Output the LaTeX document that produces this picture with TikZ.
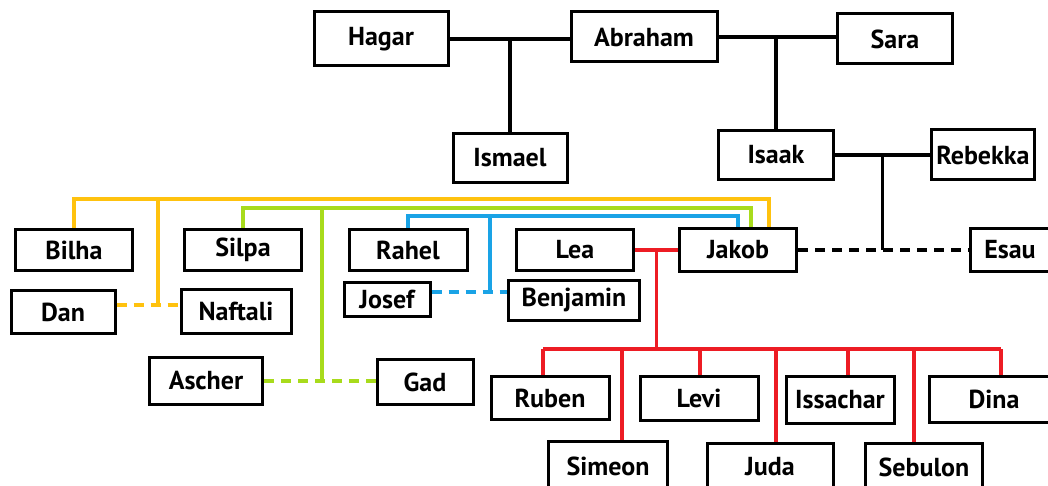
\documentclass[tikz,border=0pt]{standalone}
\usepackage{fontspec}
\setmainfont{PT Sans}
\usetikzlibrary{calc}

\definecolor{bilhagold}{HTML}{FFC20E}
\definecolor{silpagreen}{HTML}{A8DB1C}
\definecolor{rahelblue}{HTML}{1AA3E6}
\definecolor{leared}{HTML}{ED1C24}

\begin{document}
\begin{tikzpicture}[x=1pt,y=-1pt,line width=3.2pt,
                    font=\fontsize{26}{28}\selectfont\bfseries]

  \tikzstyle{person}=[draw,rectangle,inner sep=0pt,line width=3pt]
  \tikzstyle{sidewife}=[dash pattern=on 10pt off 7pt]

  \useasboundingbox (0,0) rectangle (1048,486);

  % Abraham and his house
  \node[person,minimum width=134pt,minimum height=54pt] (hagar)   at (381,39)  {Hagar};
  \node[person,minimum width=146pt,minimum height=50pt] (abraham) at (644,37)  {Abraham};
  \node[person,minimum width=115pt,minimum height=50pt] (sara)    at (895,39)  {Sara};
  \node[person,minimum width=114pt,minimum height=49pt] (ismael)  at (510,158) {Ismael};
  \node[person,minimum width=115pt,minimum height=49pt] (isaak)   at (776,155) {Isaak};
  \node[person,minimum width=103pt,minimum height=50pt] (rebekka) at (983,155) {Rebekka};

  % Jakob, Esau and the four mothers
  \node[person,minimum width=117pt,minimum height=41pt] (bilha)   at (74,250)   {Bilha};
  \node[person,minimum width=117pt,minimum height=41pt] (silpa)   at (243,250)  {Silpa};
  \node[person,minimum width=118pt,minimum height=41pt] (rahel)   at (408,250)  {Rahel};
  \node[person,minimum width=117pt,minimum height=41pt] (lea)     at (575,250)  {Lea};
  \node[person,minimum width=117pt,minimum height=43pt] (jakob)   at (738,250)  {Jakob};
  \node[person,minimum width=80pt, minimum height=43pt] (esau)    at (1010,250) {Esau};

  % the sons of the maids and of Rahel
  \node[person,minimum width=104pt,minimum height=43pt] (dan)      at (63,312)  {Dan};
  \node[person,minimum width=110pt,minimum height=44pt] (naftali)  at (236,311) {Naftali};
  \node[person,minimum width=86pt, minimum height=34pt] (josef)    at (387,299) {Josef};
  \node[person,minimum width=131pt,minimum height=40pt] (benjamin) at (574,300) {Benjamin};
  \node[person,minimum width=113pt,minimum height=47pt] (ascher)   at (206,381) {Ascher};
  \node[person,minimum width=96pt, minimum height=45pt] (gad)      at (425,382) {Gad};

  % the children of Lea
  \node[person,minimum width=118pt,minimum height=43pt] (ruben)    at (550,398) {Ruben};
  \node[person,minimum width=118pt,minimum height=44pt] (levi)     at (699,398) {Levi};
  \node[person,minimum width=108pt,minimum height=47pt] (issachar) at (840,400) {Issachar};
  \node[person,minimum width=130pt,minimum height=46pt] (dina)     at (994,399) {Dina};
  \node[person,minimum width=119pt,minimum height=50pt] (simeon)   at (608,466) {Simeon};
  \node[person,minimum width=126pt,minimum height=48pt] (juda)     at (770,467) {Juda};
  \node[person,minimum width=117pt,minimum height=48pt] (sebulon)  at (924,467) {Sebulon};

  \coordinate (bilhabar)     at (0,199);
  \coordinate (silpabar)     at (0,208);
  \coordinate (rahelbar)     at (0,216);
  \coordinate (dannaftali)   at (158,305);
  \coordinate (aschergad)    at (322,381);
  \coordinate (josefbenj)    at (490,292);
  \coordinate (isaakrebekka) at ($(isaak.east)!0.5!(rebekka.west)$);
  \coordinate (leajakob)     at ($(lea.east)!0.5!(jakob.west)$);
  \coordinate (redbar)       at ($(leajakob)+(0,99)$);

  % black lines
  \draw (hagar.east) -- (hagar.east -| abraham.west);
  \draw (ismael.north |- hagar.east) -- (ismael.north);
  \draw (abraham.east) -- (abraham.east -| sara.west);
  \draw (isaak.north |- abraham.east) -- (isaak.north);
  \draw (isaak.east) -- (isaak.east -| rebekka.west);
  \draw (isaakrebekka) -- (isaakrebekka |- jakob.east);
  \draw[sidewife] (jakob.east) -- (esau.west);

  % Bilha
  \draw[bilhagold] (bilha.north) -- (bilha.north |- bilhabar)
        -- ([xshift=31pt]jakob.north |- bilhabar) -- ([xshift=31pt]jakob.north);
  \draw[bilhagold] (dannaftali |- bilhabar) -- (dannaftali);
  \draw[bilhagold,sidewife] (dan.east |- dannaftali) -- (naftali.west |- dannaftali);

  % Silpa
  \draw[silpagreen] (silpa.north) -- (silpa.north |- silpabar)
        -- ([xshift=13pt]jakob.north |- silpabar) -- ([xshift=13pt]jakob.north);
  \draw[silpagreen] (aschergad |- silpabar) -- (aschergad);
  \draw[silpagreen,sidewife] (ascher.east |- aschergad) -- (gad.west |- aschergad);

  % Rahel
  \draw[rahelblue] (rahel.north) -- (rahel.north |- rahelbar)
        -- (jakob.north |- rahelbar) -- (jakob.north);
  \draw[rahelblue] (josefbenj |- rahelbar) -- (josefbenj);
  \draw[rahelblue,sidewife] (josef.east |- josefbenj) -- (benjamin.west |- josefbenj);

  % Lea
  \draw[leared] (lea.east |- leajakob) -- (jakob.west |- leajakob);
  \draw[leared] (leajakob) -- (redbar);
  \draw[leared] ([xshift=-7pt]ruben.north |- redbar) -- ([xshift=7pt]dina.north |- redbar);
  \foreach \kid/\dx in {ruben/-7,simeon/14,levi/1,juda/6,issachar/8,sebulon/-10,dina/7}
    \draw[leared] ([xshift=\dx pt]\kid.north) -- ([xshift=\dx pt]\kid.north |- redbar);
\end{tikzpicture}
\end{document}
